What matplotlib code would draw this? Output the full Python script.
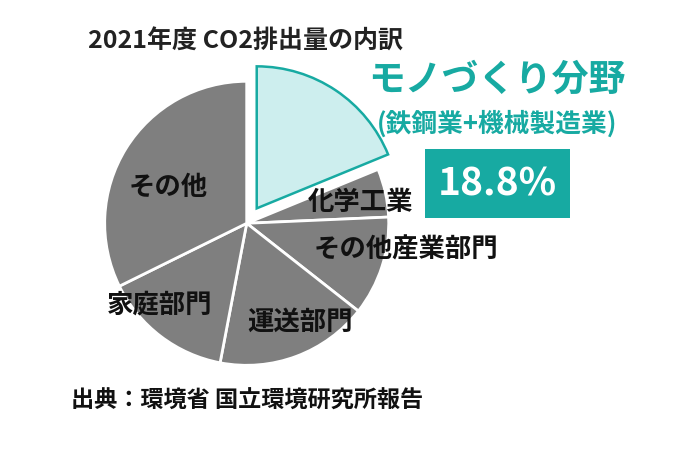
import matplotlib
matplotlib.use("Agg")
import matplotlib.pyplot as plt

plt.rcParams['font.family'] = ['Noto Sans CJK JP', 'DejaVu Sans']

# slices, clockwise from 12 o'clock
labels = ["モノづくり分野", "化学工業", "その他産業部門", "運送部門", "家庭部門", "その他"]
shares = [18.8, 5.5, 11.3, 17.4, 14.7, 32.3]

title = "2021年度 CO2排出量の内訳"
source = "出典：環境省 国立環境研究所報告"
highlight_name = "モノづくり分野"
highlight_sub = "(鉄鋼業+機械製造業)"
highlight_value = "18.8%"

teal = "#17aaa2"
gray = "#7f7f7f"
light = "#cdeeee"

W, H = 690, 455
fig = plt.figure(figsize=(W / 100, H / 100), dpi=100)
ax = fig.add_axes([0, 0, 1, 1])

# pie drawn in pixel coordinates (y flipped, so go counterclockwise in data)
cx, cy, r = 246.7, 223.3, 142
explode = [18, 0, 0, 0, 0, 0]   # pixels
wedges, _ = ax.pie(shares, colors=[light] + [gray] * 5, explode=explode,
                   startangle=-90, counterclock=True, center=(cx, cy), radius=r,
                   wedgeprops=dict(edgecolor='white', linewidth=2))
wedges[0].set_edgecolor(teal)
wedges[0].set_linewidth(1.8)
ax.set_xlim(0, W)
ax.set_ylim(H, 0)
ax.set_aspect('equal')
ax.axis('off')

bold = dict(fontweight='bold')
ax.text(88, 42, title, fontsize=18, color='#222222', va='center', ha='left', **bold)
ax.text(71, 401, source, fontsize=16.7, color='#111111', va='center', ha='left', **bold)

ax.text(168, 187, labels[5], fontsize=19, ha='center', va='center', color='#111111', **bold)
ax.text(360, 202, labels[1], fontsize=19, ha='center', va='center', color='#111111', **bold)
ax.text(406, 250, labels[2], fontsize=19, ha='center', va='center', color='#111111', **bold)
ax.text(300, 322, labels[3], fontsize=19, ha='center', va='center', color='#111111', **bold)
ax.text(160, 305, labels[4], fontsize=19, ha='center', va='center', color='#111111', **bold)

ax.text(497, 80, highlight_name, fontsize=26.5, ha='center', va='center', color=teal, **bold)
ax.text(497, 124, highlight_sub, fontsize=18.5, ha='center', va='center', color=teal, **bold)
ax.add_patch(plt.Rectangle((425, 149), 145, 69, facecolor=teal, edgecolor='none'))
ax.text(497.5, 184, highlight_value, fontsize=28, ha='center', va='center', color='white', **bold)

fig.savefig("out.png", dpi=100)
